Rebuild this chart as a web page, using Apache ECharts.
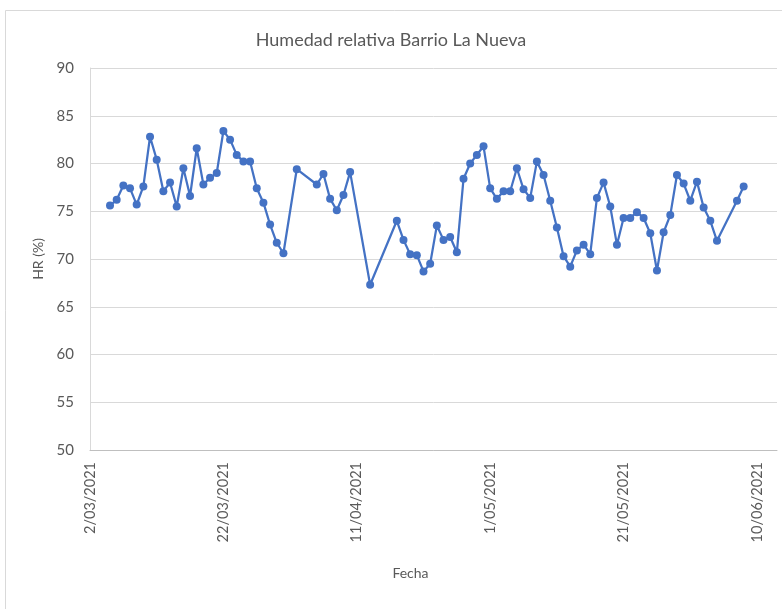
<!DOCTYPE html>
<html>
<head>
<meta charset="utf-8">
<title>Humedad relativa Barrio La Nueva</title>
<script src="https://cdn.jsdelivr.net/npm/echarts@6/dist/echarts.min.js"></script>
<style>
  html, body { margin: 0; padding: 0; background: #fff; }
  #chart { width: 782px; height: 609px; }
</style>
</head>
<body>
<div id="chart"></div>
<script>
// fechas de medición (huecos = días sin dato)
const fechas = [
  '2021-03-05', '2021-03-06', '2021-03-07', '2021-03-08', '2021-03-09', '2021-03-10',
  '2021-03-11', '2021-03-12', '2021-03-13', '2021-03-14', '2021-03-15', '2021-03-16',
  '2021-03-17', '2021-03-18', '2021-03-19', '2021-03-20', '2021-03-21', '2021-03-22',
  '2021-03-23', '2021-03-24', '2021-03-25', '2021-03-26', '2021-03-27', '2021-03-28',
  '2021-03-29', '2021-03-30', '2021-03-31', '2021-04-02', '2021-04-05', '2021-04-06',
  '2021-04-07', '2021-04-08', '2021-04-09', '2021-04-10', '2021-04-13', '2021-04-17',
  '2021-04-18', '2021-04-19', '2021-04-20', '2021-04-21', '2021-04-22', '2021-04-23',
  '2021-04-24', '2021-04-25', '2021-04-26', '2021-04-27', '2021-04-28', '2021-04-29',
  '2021-04-30', '2021-05-01', '2021-05-02', '2021-05-03', '2021-05-04', '2021-05-05',
  '2021-05-06', '2021-05-07', '2021-05-08', '2021-05-09', '2021-05-10', '2021-05-11',
  '2021-05-12', '2021-05-13', '2021-05-14', '2021-05-15', '2021-05-16', '2021-05-17',
  '2021-05-18', '2021-05-19', '2021-05-20', '2021-05-21', '2021-05-22', '2021-05-23',
  '2021-05-24', '2021-05-25', '2021-05-26', '2021-05-27', '2021-05-28', '2021-05-29',
  '2021-05-30', '2021-05-31', '2021-06-01', '2021-06-02', '2021-06-03', '2021-06-04',
  '2021-06-07', '2021-06-08'
];

// humedad relativa (%)
const hr = [
  75.6, 76.2, 77.7, 77.4, 75.7, 77.6,
  82.8, 80.4, 77.1, 78.0, 75.5, 79.5,
  76.6, 81.6, 77.8, 78.5, 79.0, 83.4,
  82.5, 80.9, 80.2, 80.2, 77.4, 75.9,
  73.6, 71.7, 70.6, 79.4, 77.8, 78.9,
  76.3, 75.1, 76.7, 79.1, 67.3, 74.0,
  72.0, 70.5, 70.4, 68.7, 69.5, 73.5,
  72.0, 72.3, 70.7, 78.4, 80.0, 80.9,
  81.8, 77.4, 76.3, 77.1, 77.1, 79.5,
  77.3, 76.4, 80.2, 78.8, 76.1, 73.3,
  70.3, 69.2, 70.9, 71.5, 70.5, 76.4,
  78.0, 75.5, 71.5, 74.3, 74.3, 74.9,
  74.3, 72.7, 68.8, 72.8, 74.6, 78.8,
  77.9, 76.1, 78.1, 75.4, 74.0, 71.9,
  76.1, 77.6
];

const DIA = 86400000;
const toUTC = (s) => {
  const [y, m, d] = s.split('-').map(Number);
  return Date.UTC(y, m - 1, d);
};
const fmtFecha = (v) => {
  const d = new Date(v);
  return d.getUTCDate() + '/' + String(d.getUTCMonth() + 1).padStart(2, '0') + '/' + d.getUTCFullYear();
};

const gris = '#595959';
const fuente = 'Lato, "Open Sans", sans-serif';

const myChart = echarts.init(document.getElementById('chart'));

const option = {
  backgroundColor: '#fff',
  textStyle: { fontFamily: fuente },
  title: {
    text: 'Humedad relativa Barrio La Nueva',
    left: 'center',
    top: 26,
    textStyle: { fontSize: 18, fontWeight: 'normal', color: gris, fontFamily: fuente }
  },
  graphic: [
    {
      type: 'rect',
      shape: { x: 5.5, y: 10.5, width: 900, height: 700 },
      style: { fill: 'none', stroke: '#d9d9d9', lineWidth: 1 },
      silent: true
    }
  ],
  grid: { left: 90, right: 5, top: 68, bottom: 159 },
  xAxis: {
    type: 'value',
    min: Date.UTC(2021, 2, 2),
    max: Date.UTC(2021, 5, 13),
    interval: 20 * DIA,
    name: 'Fecha',
    nameLocation: 'middle',
    nameGap: 116,
    nameTextStyle: { fontSize: 14, color: gris, padding: [0, 46, 0, 0] },
    axisLine: { lineStyle: { color: '#bfbfbf' } },
    axisTick: { show: false },
    splitLine: { show: false },
    axisLabel: {
      rotate: 90,
      margin: 12,
      fontSize: 14.5,
      color: gris,
      showMaxLabel: false,
      formatter: fmtFecha
    }
  },
  yAxis: {
    type: 'value',
    min: 50,
    max: 90,
    interval: 5,
    name: 'HR (%)',
    nameLocation: 'middle',
    nameRotate: 90,
    nameGap: 45,
    nameTextStyle: { fontSize: 14, color: gris },
    axisLine: { show: true, lineStyle: { color: '#d9d9d9' } },
    axisTick: { show: false },
    axisLabel: { fontSize: 15, color: gris, margin: 16 },
    splitLine: { lineStyle: { color: '#d9d9d9', width: 1 } }
  },
  series: [
    {
      name: 'HR',
      type: 'line',
      data: fechas.map((f, i) => [toUTC(f), hr[i]]),
      symbol: 'circle',
      symbolSize: 8,
      lineStyle: { color: '#4472C4', width: 2.25 },
      itemStyle: { color: '#4472C4' },
      animation: false
    }
  ]
};

myChart.setOption(option);
</script>
</body>
</html>
